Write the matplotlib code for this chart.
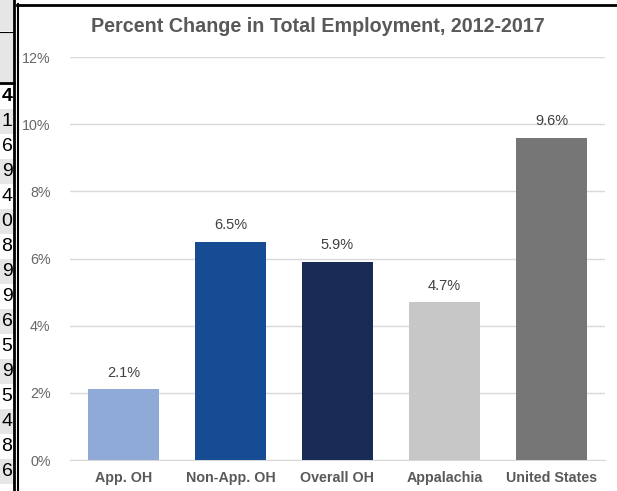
import matplotlib

matplotlib.use("Agg")
import matplotlib.pyplot as plt
from matplotlib.patches import Rectangle
from matplotlib.lines import Line2D

plt.rcParams["font.family"] = ["Liberation Sans", "DejaVu Sans"]

CATEGORIES = ["App. OH", "Non-App. OH", "Overall OH", "Appalachia", "United States"]
VALUES = [2.1, 6.5, 5.9, 4.7, 9.6]
COLORS = ["#8faad6", "#154c93", "#172b55", "#c7c7c7", "#767676"]
Y_TICKS = [0, 2, 4, 6, 8, 10, 12]
# digits of the spreadsheet column cut off at the left edge
SHEET_DIGITS = ["4", "1", "6", "9", "4", "0", "8", "9", "9", "6", "5", "9", "5", "4", "8", "6"]

W, H = 617, 491
GRID = "#d9d9d9"
TEXT = "#595959"

fig = plt.figure(figsize=(W / 100, H / 100), dpi=100)
fig.patch.set_facecolor("white")


def fx(px):
    return px / W


def fy(py):
    return 1 - py / H


# spreadsheet strip on the left
fig.patches.append(Rectangle((0, fy(31)), fx(14), fy(0) - fy(31), transform=fig.transFigure,
                             facecolor="#e6e6e6", edgecolor="none"))
fig.patches.append(Rectangle((0, fy(82)), fx(14), fy(33) - fy(82), transform=fig.transFigure,
                             facecolor="#e6e6e6", edgecolor="none"))
fig.add_artist(Line2D([0, fx(14)], [fy(32), fy(32)], transform=fig.transFigure, color="black", lw=0.8))
fig.add_artist(Line2D([0, fx(14)], [fy(83), fy(83)], transform=fig.transFigure, color="black", lw=2.0))
row_h = 25.0
for i, d in enumerate(SHEET_DIGITS):
    top = 84 + i * row_h
    if i % 2 == 1:
        fig.patches.append(Rectangle((0, fy(top + row_h)), fx(14), row_h / H, transform=fig.transFigure,
                                     facecolor="#e6e6e6", edgecolor="none"))
    fig.text(fx(12.5), fy(top + row_h / 2), d, ha="right", va="center", fontsize=14,
             fontweight="bold" if i == 0 else "normal", color="black")
fig.add_artist(Line2D([fx(14.2), fx(14.2)], [0, 1], transform=fig.transFigure, color="black", lw=2.0))
fig.add_artist(Line2D([fx(17.5), fx(17.5)], [0, fy(4)], transform=fig.transFigure, color="black", lw=1.5))
fig.add_artist(Line2D([fx(17), 1], [fy(4.5), fy(4.5)], transform=fig.transFigure, color="black", lw=2.0))

ax = fig.add_axes([fx(70), fy(460), fx(605) - fx(70), fy(57) - fy(460)])
x = range(len(CATEGORIES))
bars = ax.bar(x, VALUES, width=0.67, color=COLORS, zorder=3)
ax.set_xlim(-0.5, len(CATEGORIES) - 0.5)
ax.set_ylim(0, 12)
ax.set_yticks(Y_TICKS)
ax.set_yticklabels([f"{t}%" for t in Y_TICKS])
ax.set_xticks(list(x))
ax.set_xticklabels(CATEGORIES, fontweight="bold", fontsize=10.3)
ax.yaxis.grid(True, color=GRID, lw=1.0, zorder=0)
for s in ["top", "right", "left"]:
    ax.spines[s].set_visible(False)
ax.spines["bottom"].set_color(GRID)
ax.tick_params(axis="y", length=0, pad=14, labelsize=10.3, labelcolor="#666666")
ax.tick_params(axis="x", length=0, pad=8, labelcolor=TEXT)

for b, v in zip(bars, VALUES):
    ax.text(b.get_x() + b.get_width() / 2, v + 0.28, f"{v}%", ha="center", va="bottom",
            fontsize=10.5, color="#404040")

fig.text(fx(318), fy(27), "Percent Change in Total Employment, 2012-2017", ha="center", va="center",
         fontsize=14.2, fontweight="bold", color=TEXT)

fig.savefig("out.png", dpi=100, facecolor="white")
